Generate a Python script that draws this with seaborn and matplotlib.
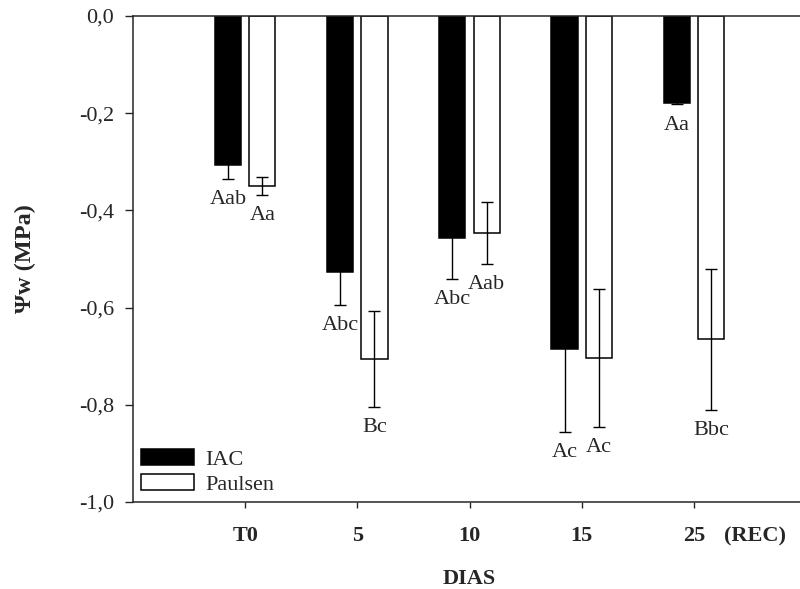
import matplotlib
matplotlib.use("Agg")
import matplotlib.pyplot as plt
from matplotlib.ticker import FixedLocator, FuncFormatter
import pandas as pd
import seaborn as sns

# Leaf water potential (MPa) per sampling day, two rootstocks
days = ["T0", "5", "10", "15", "25"]
iac_mean = [-0.307, -0.526, -0.456, -0.686, -0.178]
iac_se = [0.029, 0.069, 0.085, 0.169, 0.004]
paulsen_mean = [-0.350, -0.706, -0.446, -0.703, -0.665]
paulsen_se = [0.018, 0.098, 0.064, 0.142, 0.145]
iac_letters = ["Aab", "Abc", "Abc", "Ac", "Aa"]
paulsen_letters = ["Aa", "Bc", "Aab", "Ac", "Bbc"]
groups = ["IAC", "Paulsen"]
y_ticks = [-1.0, -0.8, -0.6, -0.4, -0.2, 0.0]

df = pd.DataFrame({
    "dia": days * 2,
    "grupo": [groups[0]] * len(days) + [groups[1]] * len(days),
    "psi": iac_mean + paulsen_mean,
})

sns.set_style("ticks")
plt.rcParams["font.family"] = ["Liberation Serif", "DejaVu Serif"]
plt.rcParams["axes.linewidth"] = 1.1

fig = plt.figure(figsize=(8, 5.89), dpi=100)
ax = fig.add_axes([133 / 800, 87 / 589, 673 / 800, 486 / 589])

sns.barplot(
    data=df, x="dia", y="psi", hue="grupo", order=days, hue_order=groups,
    palette={"IAC": "black", "Paulsen": "white"}, edgecolor="black",
    linewidth=1.1, width=0.612, gap=0.24, errorbar=None, ax=ax,
)

# Error bars and significance letters, placed on the drawn bars
for container, se, letters in zip(ax.containers,
                                  [iac_se, paulsen_se],
                                  [iac_letters, paulsen_letters]):
    xs = [p.get_x() + p.get_width() / 2 for p in container]
    ys = [p.get_height() for p in container]
    ax.errorbar(xs, ys, yerr=se, fmt="none", ecolor="black",
                elinewidth=1.0, capsize=4.3, capthick=1.0, zorder=5)
    for x, y, e, lab in zip(xs, ys, se, letters):
        ax.annotate(lab, xy=(x, y - e), xytext=(0, -8),
                    textcoords="offset points", ha="center", va="top",
                    fontsize=16)

ax.set_xlim(-1, 5)
ax.set_ylim(-1.0, 0.0)
ax.yaxis.set_major_locator(FixedLocator(y_ticks))
ax.yaxis.set_major_formatter(
    FuncFormatter(lambda v, _: f"{abs(v):.1f}".replace(".", ",")
                  if abs(v) < 1e-9 else f"{v:.1f}".replace(".", ",")))

ax.tick_params(axis="y", direction="out", length=5.8, width=1.0,
               pad=8, labelsize=16)
ax.tick_params(axis="x", direction="out", length=4.5, width=1.0,
               pad=13, labelsize=16)
for lbl in ax.get_xticklabels():
    lbl.set_fontweight("bold")

ax.annotate("(REC)", xy=(4, 0), xycoords=("data", "axes fraction"),
            xytext=(44, -25), textcoords="offset points",
            ha="center", va="center", fontsize=16, fontweight="bold")

ax.set_xlabel("DIAS", fontsize=16, fontweight="bold", va="top")
ax.xaxis.set_label_coords(0.5, -0.138)
ax.set_ylabel("Ψw (MPa)", fontsize=17.5, fontweight="bold")
ax.yaxis.set_label_coords(-97 / 673, 0.5)

handles, labels = ax.get_legend_handles_labels()
ax.legend(handles, labels, loc="lower left", bbox_to_anchor=(0.012, 0.015),
          frameon=False, fontsize=16, handlelength=2.4, handleheight=0.68,
          handletextpad=0.5, labelspacing=0.2, borderaxespad=0, borderpad=0)

fig.savefig("out.png", dpi=100)
